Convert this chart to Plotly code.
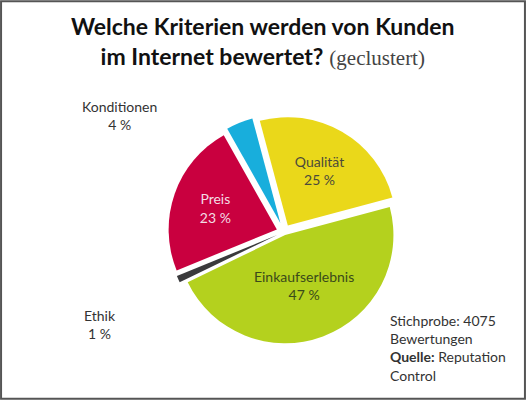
import plotly.graph_objects as go

# Kriterien (geclustert), Reihenfolge im Uhrzeigersinn ab Qualität
labels = ["Qualität", "Einkaufserlebnis", "Ethik", "Preis", "Konditionen"]
values = [25, 47, 1, 23, 4]
colors = ["#EAD81A", "#B4D11E", "#3A3A3C", "#C9003F", "#18AEDC"]
text_colors = ["#4a4a3a", "#3a4a1a", "#333333", "#f3dde4", "#333333"]
text_pos = ["inside", "inside", "none", "inside", "none"]
pull = [0.07, 0.03, 0.07, 0.07, 0.09]

# Positionen der Beschriftungen für die kleinen Segmente (außen)
outside_pos = {"Ethik": (0.19, 0.19), "Konditionen": (0.228, 0.712)}

fig = go.Figure()
fig.add_trace(go.Pie(
    labels=labels,
    values=values,
    sort=False,
    direction="clockwise",
    rotation=-15,
    pull=pull,
    marker=dict(colors=colors, line=dict(color="white", width=0)),
    texttemplate="%{label}<br>%{value} %",
    textposition=text_pos,
    insidetextorientation="horizontal",
    textfont=dict(family="Lato", size=14, color=text_colors),
    showlegend=False,
    domain=dict(x=[0.31, 0.77], y=[0.125, 0.715]),
))

for lab, val in zip(labels, values):
    if lab in outside_pos:
        px, py = outside_pos[lab]
        fig.add_annotation(
            x=px, y=py, xref="paper", yref="paper", xanchor="center", yanchor="middle",
            showarrow=False, align="center", text=f"{lab}<br>{val} %",
            font=dict(family="Lato", size=14, color="#333333"),
        )

fig.add_annotation(
    x=0.5, y=0.975, xref="paper", yref="paper", xanchor="center", yanchor="top",
    showarrow=False, align="center",
    text="<b>Welche Kriterien werden von Kunden</b><br><b>im Internet bewertet?</b> "
         "<span style='font-family:Liberation Serif;font-size:21px;color:#444'>(geclustert)</span>",
    font=dict(family="Lato", size=23, color="#111111"),
)

fig.add_annotation(
    x=0.738, y=0.225, xref="paper", yref="paper", xanchor="left", yanchor="top",
    showarrow=False, align="left",
    text="Stichprobe: 4075<br>Bewertungen<br><b>Quelle:</b> Reputation<br>Control",
    font=dict(family="Lato", size=14, color="#333333"),
)

fig.add_shape(type="rect", xref="paper", yref="paper", x0=0.002, y0=0.003, x1=0.998, y1=0.997,
              line=dict(color="#555555", width=2))

fig.update_layout(
    width=526, height=400,
    margin=dict(l=0, r=0, t=0, b=0),
    paper_bgcolor="white",
    plot_bgcolor="white",
)

fig.write_html("out.html", config={"displayModeBar": False},
               post_script="document.body.style.margin='0';document.body.style.overflow='hidden';")
